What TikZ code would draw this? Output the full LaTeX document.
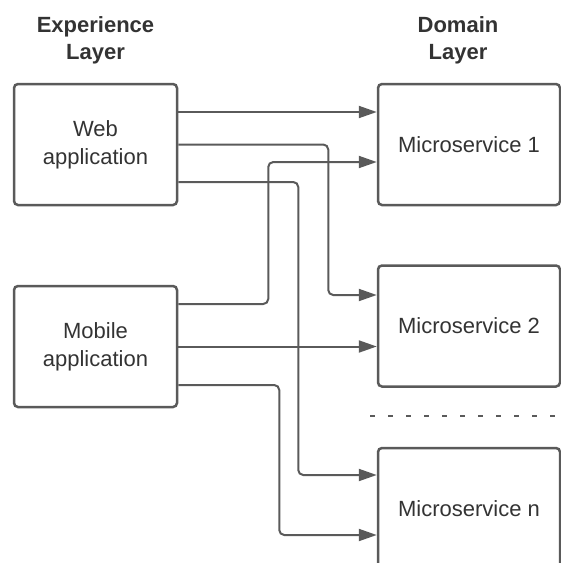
\documentclass[tikz,border=0pt]{standalone}
\usepackage{fontspec}
\setmainfont{Liberation Sans}
\usepackage{tikz}
\usetikzlibrary{arrows.meta,positioning}
\definecolor{linegray}{HTML}{5A5A5A}
\definecolor{textgray}{HTML}{333333}

\begin{document}
\begin{tikzpicture}[x=1pt,y=-1pt,
box/.style={draw=linegray,line width=2.5pt,rounded corners=4pt,minimum height=121pt,align=center,text=textgray,font=\fontsize{22}{28}\selectfont},
app/.style={box,minimum width=163pt},
service/.style={box,minimum width=182pt},
layer/.style={align=center,text=textgray,font=\fontsize{22}{27}\selectfont\bfseries},
link/.style={draw=linegray,line width=2pt,rounded corners=5pt,-{Triangle[length=18pt,width=12pt]}}]
\useasboundingbox (0,0) rectangle (561,563);
\node[layer] (exp) at (95.5,40) {Experience\\Layer};
\node[layer] (dom) at (458,40) {Domain\\Layer};
\node[app] (web) at (95.5,144.5) {Web\\application};
\node[app] (mobile) at (95.5,346.5) {Mobile\\application};
\node[service] (ms1) at (469,144.5) {Microservice 1};
\node[service] (ms2) at (469,326) {Microservice 2};
\node[service] (msn) at (469,508.5) {Microservice n};
\coordinate (sepL) at (370,416);
\coordinate (sepR) at (561,416);
\draw[draw=linegray,line width=2pt,dash pattern=on 5pt off 13pt] (sepL) -- (sepR);
\draw[link] ([yshift=32.5pt]web.east) -- ([yshift=32.5pt]ms1.west);
\draw[link] (web.east) -- ++(150,0) |- ([yshift=31pt]ms2.west);
\draw[link] ([yshift=-37.5pt]web.east) -- ++(120,0) |- ([yshift=33.5pt]msn.west);
\draw[link] ([yshift=42.5pt]mobile.east) -- ++(90,0) |- ([yshift=-17.5pt]ms1.west);
\draw[link] (mobile.east) -- (mobile.east -| ms2.west);
\draw[link] ([yshift=-38.5pt]mobile.east) -- ++(101,0) |- ([yshift=-26.5pt]msn.west);
\end{tikzpicture}
\end{document}
